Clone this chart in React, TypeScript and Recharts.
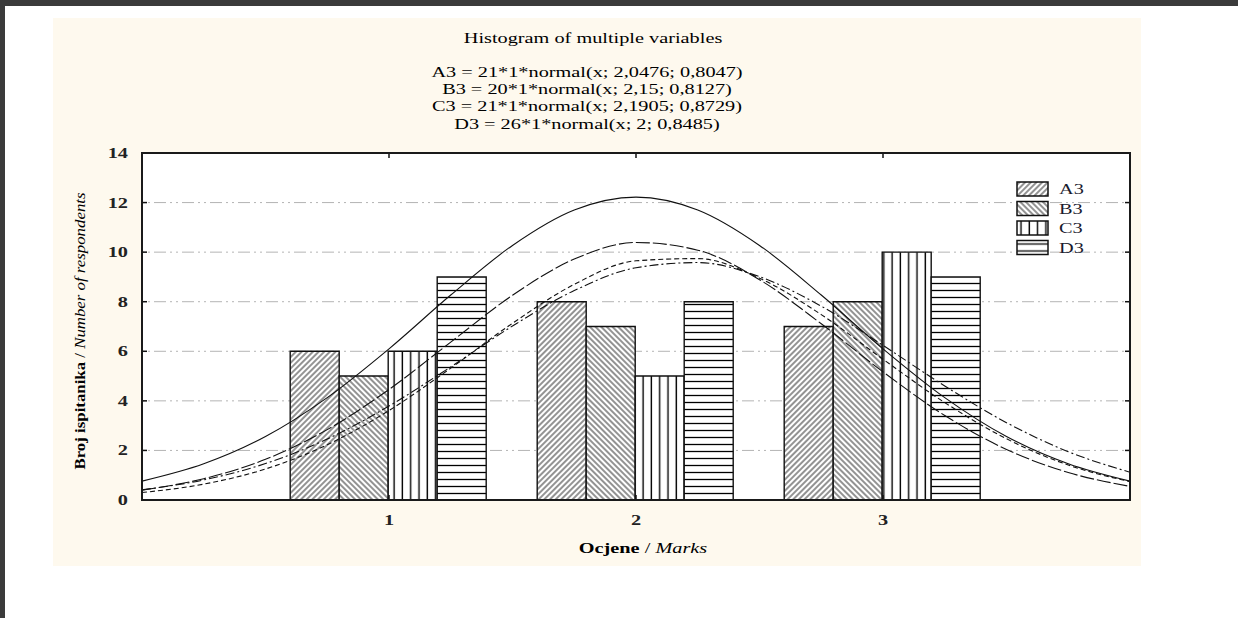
import { Bar, CartesianGrid, ComposedChart, Line, XAxis, YAxis } from "recharts";

/* ---------- data ---------- */
const MARKS = ["1", "2", "3"];
const A3 = [6, 8, 7];
const B3 = [5, 7, 8];
const C3 = [6, 5, 10];
const D3 = [9, 8, 9];

// fitted normal curves, read at every quarter mark
const FIT_X = [0, 0.25, 0.5, 0.75, 1, 1.25, 1.5, 1.75, 2, 2.25, 2.5, 2.75, 3, 3.25, 3.5, 3.75, 4];
const A3_FIT = [0.4, 0.86, 1.64, 2.84, 4.46, 6.37, 8.26, 9.72, 10.39, 10.08, 8.89, 7.11, 5.17, 3.41, 2.04, 1.11, 0.55];
const B3_FIT = [0.3, 0.64, 1.25, 2.23, 3.61, 5.32, 7.13, 8.7, 9.65, 9.74, 8.95, 7.48, 5.68, 3.93, 2.47, 1.41, 0.74];
const C3_FIT = [0.41, 0.81, 1.47, 2.46, 3.79, 5.37, 7.02, 8.45, 9.37, 9.58, 9.01, 7.82, 6.24, 4.6, 3.12, 1.95, 1.12];
const D3_FIT = [0.76, 1.46, 2.56, 4.13, 6.1, 8.27, 10.27, 11.7, 12.22, 11.7, 10.27, 8.27, 6.1, 4.13, 2.56, 1.46, 0.76];

const Y_TICKS = [0, 2, 4, 6, 8, 10, 12, 14];
const X_TICKS = [1, 2, 3];

const TITLE = "Histogram of multiple variables";
const EQUATIONS = [
  "A3 = 21*1*normal(x; 2,0476; 0,8047)",
  "B3 = 20*1*normal(x; 2,15; 0,8127)",
  "C3 = 21*1*normal(x; 2,1905; 0,8729)",
  "D3 = 26*1*normal(x; 2; 0,8485)",
];

const SERIES = [
  { key: "A3", values: A3, fit: A3_FIT, pattern: "hatchA3", dash: "14 3" },
  { key: "B3", values: B3, fit: B3_FIT, pattern: "hatchB3", dash: "5 3" },
  { key: "C3", values: C3, fit: C3_FIT, pattern: "hatchC3", dash: "9 3 2 3" },
  { key: "D3", values: D3, fit: D3_FIT, pattern: "hatchD3", dash: undefined },
];

const barRows = MARKS.map((mark, i) => {
  const row: Record<string, string | number> = { mark };
  SERIES.forEach((s) => (row[s.key] = s.values[i]));
  return row;
});

const fitRows = FIT_X.map((x, i) => {
  const row: Record<string, number> = { x };
  SERIES.forEach((s) => (row[s.key + "fit"] = s.fit[i]));
  return row;
});

/* ---------- layout ---------- */
const W = 1238;
const H = 618;
const PLOT = { left: 142, top: 153, right: 1130, bottom: 500 };
const Y_AXIS_W = 40;
const X_AXIS_H = 30;
const STRETCH = 1.45; // the source picture is squeezed wide
const FONT = "'Liberation Serif', 'Times New Roman', serif";
const INK = "#111";

function YTick({ y, payload }: any) {
  const v = payload.value;
  const edge = v === 0 || v === 14;
  return (
    <g>
      {!edge && (
        <>
          <line x1={PLOT.left} x2={PLOT.left + 5} y1={y} y2={y} stroke={INK} strokeWidth={1.5} />
          <line x1={PLOT.right - 5} x2={PLOT.right} y1={y} y2={y} stroke={INK} strokeWidth={1.5} />
        </>
      )}
      <text
        transform={`translate(${PLOT.left - 14},${y + 5}) scale(${STRETCH},1)`}
        textAnchor="end"
        fontFamily={FONT}
        fontWeight="bold"
        fontSize={14}
        fill="#222"
      >
        {v}
      </text>
    </g>
  );
}

function XTick({ x, payload }: any) {
  return (
    <g>
      <line x1={x} x2={x} y1={PLOT.top} y2={PLOT.top + 5} stroke={INK} strokeWidth={1.5} />
      <line x1={x} x2={x} y1={PLOT.bottom - 5} y2={PLOT.bottom} stroke={INK} strokeWidth={1.5} />
      <text
        transform={`translate(${x},${PLOT.bottom + 25}) scale(${STRETCH},1)`}
        textAnchor="middle"
        fontFamily={FONT}
        fontWeight="bold"
        fontSize={14}
        fill="#222"
      >
        {payload.value}
      </text>
    </g>
  );
}

function Patterns() {
  return (
    <defs>
      <pattern id="hatchA3" patternUnits="userSpaceOnUse" width={4} height={10} patternTransform="rotate(45)">
        <rect width={4} height={10} fill="#fff" />
        <line x1={2} y1={0} x2={2} y2={10} stroke="#000" strokeWidth={0.85} />
      </pattern>
      <pattern id="hatchB3" patternUnits="userSpaceOnUse" width={4} height={10} patternTransform="rotate(-45)">
        <rect width={4} height={10} fill="#fff" />
        <line x1={2} y1={0} x2={2} y2={10} stroke="#000" strokeWidth={0.85} />
      </pattern>
      <pattern id="hatchC3" patternUnits="userSpaceOnUse" width={8.3} height={10}>
        <rect width={8.3} height={10} fill="#fff" />
        <line x1={4} y1={0} x2={4} y2={10} stroke="#000" strokeWidth={1.4} />
      </pattern>
      <pattern id="hatchD3" patternUnits="userSpaceOnUse" width={10} height={7}>
        <rect width={10} height={7} fill="#fff" />
        <line x1={0} y1={3.5} x2={10} y2={3.5} stroke="#000" strokeWidth={1.3} />
      </pattern>
    </defs>
  );
}

function Texts() {
  const cx = (PLOT.left + PLOT.right) / 2;
  return (
    <svg width={W} height={H} style={{ position: "absolute", left: 0, top: 0 }}>
      <text
        transform={`translate(593,43) scale(${STRETCH},1)`}
        textAnchor="middle"
        fontFamily={FONT}
        fontSize={14}
        fill="#000"
      >
        {TITLE}
      </text>
      {EQUATIONS.map((eq, i) => (
        <text
          key={eq}
          transform={`translate(587,${77 + i * 17.2}) scale(${STRETCH},1)`}
          textAnchor="middle"
          fontFamily={FONT}
          fontSize={14}
          fill="#000"
        >
          {eq}
        </text>
      ))}
      <text
        transform="translate(85,331) rotate(-90)"
        textAnchor="middle"
        fontFamily={FONT}
        fontSize={15}
        fill="#000"
        textLength={277}
        lengthAdjust="spacingAndGlyphs"
      >
        <tspan fontWeight="bold">Broj ispitanika</tspan>
        <tspan> / </tspan>
        <tspan fontStyle="italic">Number of respondents</tspan>
      </text>
      <text
        transform={`translate(${cx + 7},553) scale(${STRETCH},1)`}
        textAnchor="middle"
        fontFamily={FONT}
        fontSize={14}
        fill="#000"
      >
        <tspan fontWeight="bold">Ocjene</tspan>
        <tspan> / </tspan>
        <tspan fontStyle="italic">Marks</tspan>
      </text>
    </svg>
  );
}

function LegendBox() {
  return (
    <svg width={110} height={90} style={{ position: "absolute", left: 1012, top: 178 }}>
      {SERIES.map((s, i) => (
        <g key={s.key} transform={`translate(5,${4 + i * 19.5})`}>
          <rect width={31} height={14} fill={`url(#${s.pattern})`} stroke={INK} strokeWidth={1.5} />
          <text
            transform={`translate(42,12) scale(${STRETCH},1)`}
            fontFamily={FONT}
            fontSize={14}
            fill="#1a1a2e"
          >
            {s.key}
          </text>
        </g>
      ))}
    </svg>
  );
}

export default function App() {
  return (
    <div style={{ position: "fixed", left: 0, top: 0, width: W, height: H, background: "#fff", overflow: "hidden" }}>
      <div style={{ position: "absolute", left: 0, top: 0, width: W, height: 6, background: "#3b3b3b" }} />
      <div style={{ position: "absolute", left: 0, top: 0, width: 5, height: H, background: "#3b3b3b" }} />
      <div style={{ position: "absolute", left: 53, top: 18, width: 1088, height: 548, background: "#fef9ee" }} />
      <div
        style={{
          position: "absolute",
          left: PLOT.left,
          top: PLOT.top,
          width: PLOT.right - PLOT.left,
          height: PLOT.bottom - PLOT.top,
          background: "#fff",
        }}
      />
      <div style={{ position: "absolute", left: 0, top: 0 }}>
        <ComposedChart
          width={W}
          height={H}
          data={barRows}
          margin={{
            top: PLOT.top,
            right: W - PLOT.right,
            bottom: H - PLOT.bottom - X_AXIS_H,
            left: PLOT.left - Y_AXIS_W,
          }}
          barGap={0}
          barCategoryGap="10%"
        >
          <Patterns />
          <CartesianGrid
            xAxisId="num"
            vertical={false}
            stroke="#b4b4b4"
            strokeDasharray="2 4 2 4 12 4"
          />
          <XAxis
            xAxisId="cat"
            dataKey="mark"
            type="category"
            hide
            padding={{ left: 123.5, right: 123.5 }}
          />
          <XAxis
            xAxisId="num"
            dataKey="x"
            type="number"
            domain={[0, 4]}
            ticks={X_TICKS}
            allowDataOverflow
            axisLine={false}
            tickLine={false}
            tick={<XTick />}
            height={X_AXIS_H}
          />
          <YAxis
            domain={[0, 14]}
            ticks={Y_TICKS}
            allowDataOverflow
            axisLine={false}
            tickLine={false}
            tick={<YTick />}
            width={Y_AXIS_W}
          />
          {SERIES.map((s) => (
            <Bar
              key={s.key}
              xAxisId="cat"
              dataKey={s.key}
              fill={`url(#${s.pattern})`}
              stroke={INK}
              strokeWidth={1.4}
              isAnimationActive={false}
            />
          ))}
          {SERIES.map((s) => (
            <Line
              key={s.key + "fit"}
              xAxisId="num"
              data={fitRows}
              dataKey={s.key + "fit"}
              type="monotone"
              stroke="#111"
              strokeWidth={1.1}
              strokeDasharray={s.dash}
              dot={false}
              activeDot={false}
              isAnimationActive={false}
            />
          ))}
        </ComposedChart>
      </div>
      <Texts />
      <LegendBox />
      <div
        style={{
          position: "absolute",
          left: PLOT.left - 1,
          top: PLOT.top - 1,
          width: PLOT.right - PLOT.left + 2,
          height: PLOT.bottom - PLOT.top + 2,
          border: "2px solid #1a1a1a",
          boxSizing: "border-box",
          pointerEvents: "none",
        }}
      />
    </div>
  );
}
